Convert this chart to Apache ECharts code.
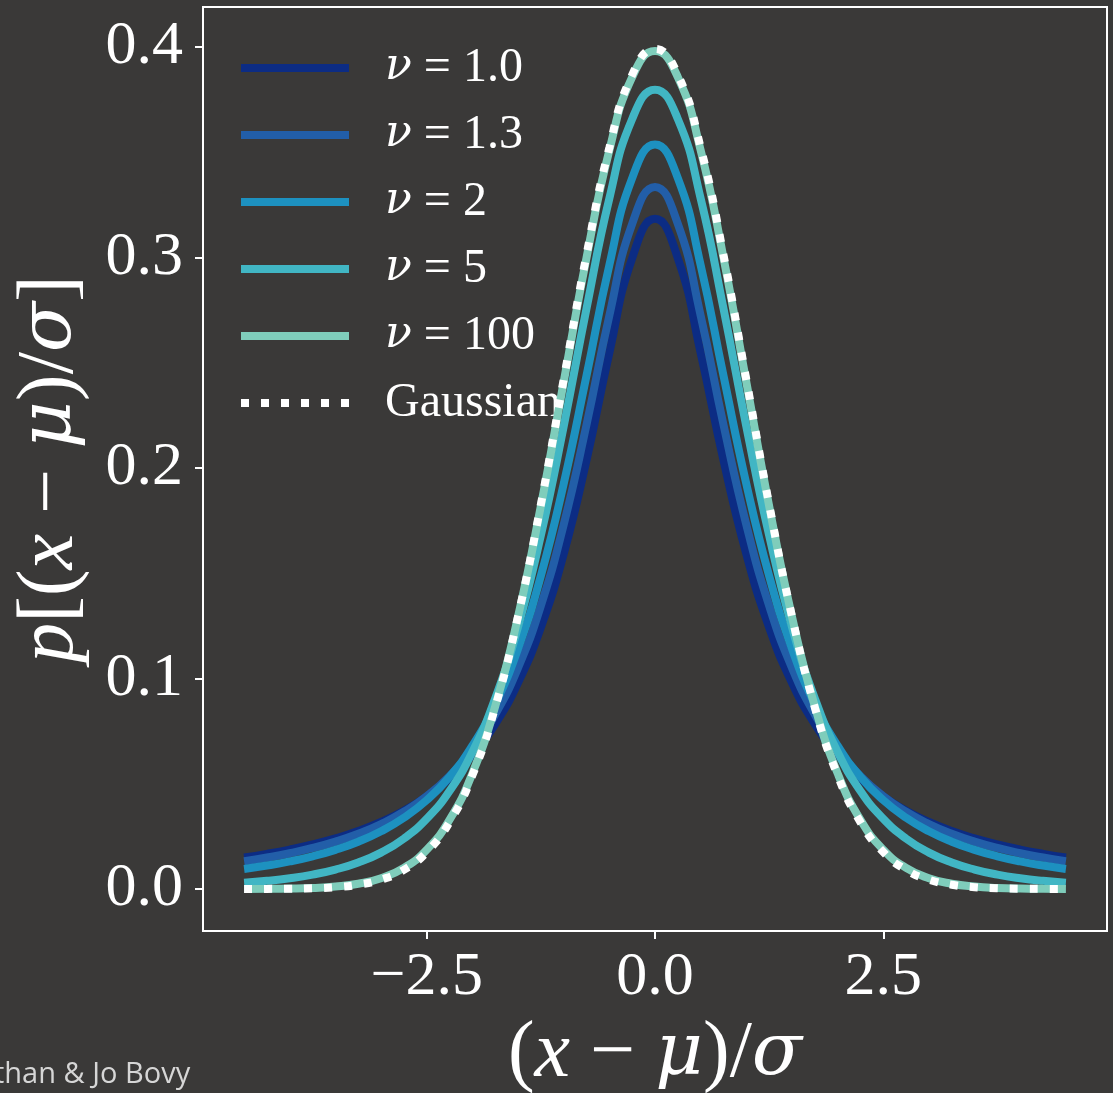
<!DOCTYPE html>
<html>
<head>
<meta charset="utf-8">
<script src="https://cdn.jsdelivr.net/npm/echarts@6/dist/echarts.min.js"></script>
<style>
  html, body { margin: 0; padding: 0; background: #3a3938; }
  #chart { width: 1113px; height: 1093px; }
</style>
</head>
<body>
<div id="chart"></div>
<script>
// x grid, (x - mu)/sigma
const xs = [-4.5,-4.25,-4,-3.75,-3.5,-3.25,-3,-2.75,-2.5,-2.25,-2,-1.75,-1.5,-1.25,-1,-0.75,-0.5,-0.25,0,
  0.25,0.5,0.75,1,1.25,1.5,1.75,2,2.25,2.5,2.75,3,3.25,3.5,3.75,4,4.25,4.5];

const nu1 = [0.01498,0.01670,0.01872,0.02113,0.02402,0.02753,0.03183,0.03718,0.04390,0.05251,0.06366,0.07835,0.09794,0.12422,0.15915,0.20372,0.25465,0.29959,0.31831,
  0.29959,0.25465,0.20372,0.15915,0.12422,0.09794,0.07835,0.06366,0.05251,0.04390,0.03718,0.03183,0.02753,0.02402,0.02113,0.01872,0.01670,0.01498];
const nu13 = [0.01320,0.01493,0.01699,0.01948,0.02251,0.02623,0.03085,0.03667,0.04409,0.05368,0.06623,0.08286,0.10500,0.13450,0.17299,0.22049,0.27235,0.31587,0.33340,
  0.31587,0.27235,0.22049,0.17299,0.13450,0.10500,0.08286,0.06623,0.05368,0.04409,0.03667,0.03085,0.02623,0.02251,0.01948,0.01699,0.01493,0.01320];
const nu2 = [0.00953,0.01113,0.01309,0.01553,0.01859,0.02246,0.02741,0.03382,0.04220,0.05328,0.06804,0.08779,0.11413,0.14872,0.19245,0.24378,0.29630,0.33761,0.35355,
  0.33761,0.29630,0.24378,0.19245,0.14872,0.11413,0.08779,0.06804,0.05328,0.04220,0.03382,0.02741,0.02246,0.01859,0.01553,0.01309,0.01113,0.00953];
const nu5 = [0.00295,0.00387,0.00512,0.00685,0.00924,0.01259,0.01729,0.02393,0.03333,0.04657,0.06509,0.09054,0.12452,0.16790,0.21968,0.27570,0.32792,0.36572,0.37961,
  0.36572,0.32792,0.27570,0.21968,0.16790,0.12452,0.09054,0.06509,0.04657,0.03333,0.02393,0.01729,0.01259,0.00924,0.00685,0.00512,0.00387,0.00295];
const nu100 = [0.00004,0.00009,0.00022,0.00052,0.00116,0.00250,0.00513,0.01002,0.01863,0.03286,0.05491,0.08674,0.12936,0.18189,0.24076,0.29977,0.35081,0.38559,0.39795,
  0.38559,0.35081,0.29977,0.24076,0.18189,0.12936,0.08674,0.05491,0.03286,0.01863,0.01002,0.00513,0.00250,0.00116,0.00052,0.00022,0.00009,0.00004];
const gauss = [0.00002,0.00005,0.00013,0.00035,0.00087,0.00203,0.00443,0.00909,0.01753,0.03174,0.05399,0.08628,0.12952,0.18265,0.24197,0.30114,0.35207,0.38667,0.39894,
  0.38667,0.35207,0.30114,0.24197,0.18265,0.12952,0.08628,0.05399,0.03174,0.01753,0.00909,0.00443,0.00203,0.00087,0.00035,0.00013,0.00005,0.00002];

const seriesNames = ['ν = 1.0', 'ν = 1.3', 'ν = 2', 'ν = 5', 'ν = 100', 'Gaussian'];
const seriesData = [nu1, nu13, nu2, nu5, nu100, gauss];
const colors = ['#0c2c84', '#225ea8', '#1d91c0', '#41b6c4', '#7fcdbb', '#ffffff'];

const xTicks = [-2.5, 0, 2.5];
const yTicks = [0, 0.1, 0.2, 0.3, 0.4];

const serif = '"Liberation Serif", "DejaVu Serif", serif';
const greek = '"DejaVu Serif", serif';
const mathRich = (size) => ({
  i: { fontFamily: serif, fontStyle: 'italic', fontSize: size, color: '#fff' },
  g: { fontFamily: greek, fontStyle: 'italic', fontSize: size * 0.92, color: '#fff' },
  n: { fontFamily: serif, fontSize: size, color: '#fff' }
});

const chart = echarts.init(document.getElementById('chart'));

const series = seriesNames.map((name, k) => ({
    name: name,
    type: 'line',
    data: xs.map((x, i) => [x, seriesData[k][i]]),
    smooth: 0.5,
    symbol: 'none',
    z: 2 + k,
    lineStyle: {
        color: colors[k],
        width: 8,
        type: name === 'Gaussian' ? [8, 12] : 'solid',
        cap: 'butt'
    },
    itemStyle: { color: colors[k] }
}));

const fmtTick = (v) => (v < 0 ? '\u2212' : '') + Math.abs(v).toFixed(1);

chart.setOption({
    backgroundColor: '#3a3938',
    animation: false,
    grid: {
        left: 203, right: 6, top: 7, bottom: 162,
        outerBoundsMode: 'none',
        containLabel: false,
        show: true, borderColor: '#ffffff', borderWidth: 2,
        backgroundColor: 'transparent'
    },
    legend: {
        orient: 'vertical',
        left: 237, top: 43, padding: 0,
        itemWidth: 108, itemHeight: 20, itemGap: 17,
        itemStyle: { opacity: 0 },
        lineStyle: { width: 8 },
        data: seriesNames,
        formatter: (name) => name.startsWith('ν')
            ? '{g|ν}{n|' + name.slice(1) + '}'
            : '{n|' + name + '}',
        textStyle: {
            color: '#fff', fontFamily: serif, fontSize: 48, lineHeight: 50,
            padding: [0, 0, 0, 31],
            rich: mathRich(48)
        }
    },
    xAxis: {
        type: 'value',
        min: -4.95, max: 4.95,
        name: '{n|(}{i|x}{n| \u2212 }{g|μ}{n|)/}{g|σ}',
        nameLocation: 'middle',
        nameGap: 84,
        nameTextStyle: { rich: mathRich(80) },
        axisLine: { show: false, onZero: false },
        splitLine: { show: false },
        axisTick: {
            show: true, length: 8, inside: false,
            customValues: xTicks,
            lineStyle: { color: '#fff', width: 2 }
        },
        axisLabel: {
            customValues: xTicks,
            formatter: fmtTick,
            color: '#fff', fontFamily: serif, fontSize: 62, margin: 16
        }
    },
    yAxis: {
        type: 'value',
        min: -0.01995, max: 0.41888,
        name: '{i|p}{n|[(}{i|x}{n| \u2212 }{g|μ}{n|)/}{g|σ}{n|]}',
        nameLocation: 'middle',
        nameRotate: 90,
        nameGap: 112,
        nameTextStyle: { rich: mathRich(80) },
        axisLine: { show: false, onZero: false },
        splitLine: { show: false },
        axisTick: {
            show: true, length: 8, inside: false,
            customValues: yTicks,
            lineStyle: { color: '#fff', width: 2 }
        },
        axisLabel: {
            customValues: yTicks,
            formatter: fmtTick,
            color: '#fff', fontFamily: serif, fontSize: 62, margin: 20
        }
    },
    graphic: [{
        type: 'text',
        left: -6, top: 1060,
        style: {
            text: 'than & Jo Bovy',
            fill: '#d6d6d6',
            font: '29px "Open Sans", "Noto Sans", sans-serif'
        }
    }],
    series: series
});
</script>
</body>
</html>
